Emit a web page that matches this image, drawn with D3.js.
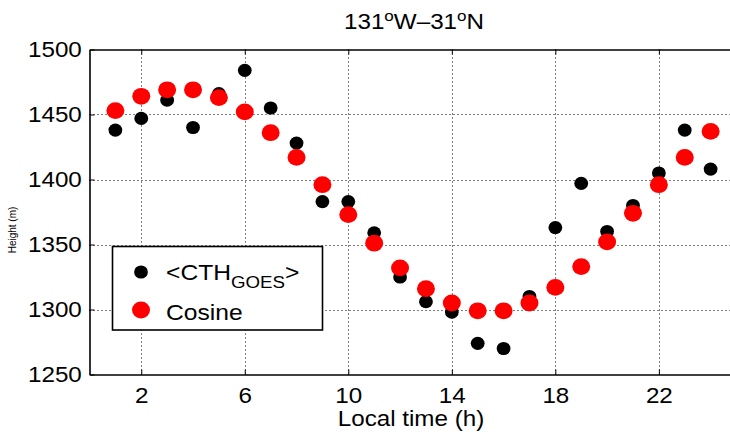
<!DOCTYPE html>
<html><head><meta charset="utf-8">
<script src="https://cdn.jsdelivr.net/npm/d3@7"></script>
<style>body{margin:0;background:#fff}svg{display:block}text{font-family:"Liberation Sans",Arial,Helvetica,sans-serif}</style>
</head><body><svg id="c" width="730" height="432"></svg>
<script>
const hours = [1,2,3,4,5,6,7,8,9,10,11,12,13,14,15,16,17,18,19,20,21,22,23,24];
const cthGoes = [1438,1447,1461,1440,1466,1484,1455,1428,1383,1383,1359,1325,1306,1298,1274,1270,1310,1363,1397,1360,1380,1405,1438,1408];
const cosine = [1453,1464,1469,1469,1463,1452,1436,1417,1396,1373,1351,1332,1316,1305,1299,1299,1305,1317,1333,1352,1374,1396,1417,1437];
const xTicks = [2,6,10,14,18,22];
const yTicks = [1250,1300,1350,1400,1450,1500];

const SX = 1.1; // horizontal stretch of the reference rendering
const svg = d3.select("#c");
const L = 89.5, R = 736.5, T = 49.5, B = 374.5;
const x = d3.scaleLinear().domain([0,25]).range([L,R]);
const y = d3.scaleLinear().domain([1250,1500]).range([B,T]);

// grid
const g = svg.append("g");
g.selectAll("line.gx").data(xTicks).join("line").attr("class","gx")
  .attr("x1",d=>Math.round(x(d))+0.5).attr("x2",d=>Math.round(x(d))+0.5).attr("y1",T).attr("y2",B)
  .attr("stroke","#000").attr("stroke-width",1).attr("stroke-dasharray","1,3");
g.selectAll("line.gy").data(yTicks.slice(1,-1)).join("line").attr("class","gy")
  .attr("y1",d=>Math.round(y(d))+0.5).attr("y2",d=>Math.round(y(d))+0.5).attr("x1",L).attr("x2",R)
  .attr("stroke","#000").attr("stroke-width",1).attr("stroke-dasharray","1,3");

// axes
const xAxis = d3.axisBottom(x).tickValues(xTicks).tickSizeInner(-5).tickSizeOuter(0).tickPadding(13).tickFormat(d3.format("d"));
const ax = svg.append("g").attr("transform",`translate(0,${B})`).call(xAxis);
ax.select(".domain").attr("stroke-width",1.6);
ax.selectAll("text").attr("font-size",22).attr("fill","#000").attr("font-family",null)
  .attr("transform",`scale(${SX},1)`);
const xTop = d3.axisTop(x).tickValues(xTicks).tickSizeInner(-5).tickSizeOuter(0).tickFormat("");
const at = svg.append("g").attr("transform",`translate(0,${T})`).call(xTop);
at.select(".domain").attr("stroke-width",1.6);

const yAxis = d3.axisLeft(y).tickValues(yTicks).tickSizeInner(-5).tickSizeOuter(0).tickPadding(7).tickFormat(d3.format("d"));
const ay = svg.append("g").attr("transform",`translate(${L},0)`).call(yAxis);
ay.select(".domain").attr("stroke-width",1.6);
ay.selectAll("text").attr("font-size",22).attr("fill","#000").attr("font-family",null)
  .attr("transform",`scale(${SX},1)`);

// points
svg.append("g").selectAll("ellipse").data(hours).join("ellipse")
  .attr("cx",d=>x(d)).attr("cy",(d,i)=>y(cthGoes[i])).attr("rx",6.9).attr("ry",6.6).attr("fill","#000");
svg.append("g").selectAll("ellipse").data(hours).join("ellipse")
  .attr("cx",d=>x(d)).attr("cy",(d,i)=>y(cosine[i])).attr("rx",9).attr("ry",8.4).attr("fill","#f00");

// title
const t = svg.append("text").attr("transform",`translate(414,28.5) scale(${SX},1)`).attr("text-anchor","middle").attr("font-size",22).attr("fill","#000");
t.append("tspan").text("131");
t.append("tspan").text("o").attr("font-size",15.5).attr("dy",-8);
t.append("tspan").text("W\u201331").attr("dy",8);
t.append("tspan").text("o").attr("font-size",15.5).attr("dy",-8);
t.append("tspan").text("N").attr("dy",8);

// axis labels
svg.append("text").attr("transform",`translate(411,425.5) scale(${SX},1)`).attr("text-anchor","middle").attr("font-size",22).attr("fill","#000").text("Local time (h)");
svg.append("text").attr("transform","translate(16,230) rotate(-90)").attr("text-anchor","middle").attr("font-size",10).attr("fill","#000").text("Height (m)");

// legend
const lg = svg.append("g");
lg.append("rect").attr("x",112.5).attr("y",246.5).attr("width",210).attr("height",83.5).attr("fill","#fff").attr("stroke","#000").attr("stroke-width",1.6);
lg.append("ellipse").attr("cx",141).attr("cy",272).attr("rx",6.9).attr("ry",6.6).attr("fill","#000");
lg.append("ellipse").attr("cx",141).attr("cy",310).attr("rx",9).attr("ry",8.4).attr("fill","#f00");
const l1 = lg.append("text").attr("transform",`translate(166,280) scale(${SX},1)`).attr("font-size",22.4).attr("fill","#000");
l1.append("tspan").text("<CTH");
l1.append("tspan").text("GOES").attr("font-size",17).attr("dy",8);
l1.append("tspan").text(">").attr("dy",-8);
lg.append("text").attr("transform",`translate(166,320) scale(${SX},1)`).attr("font-size",22.4).attr("fill","#000").text("Cosine");
</script></body></html>
